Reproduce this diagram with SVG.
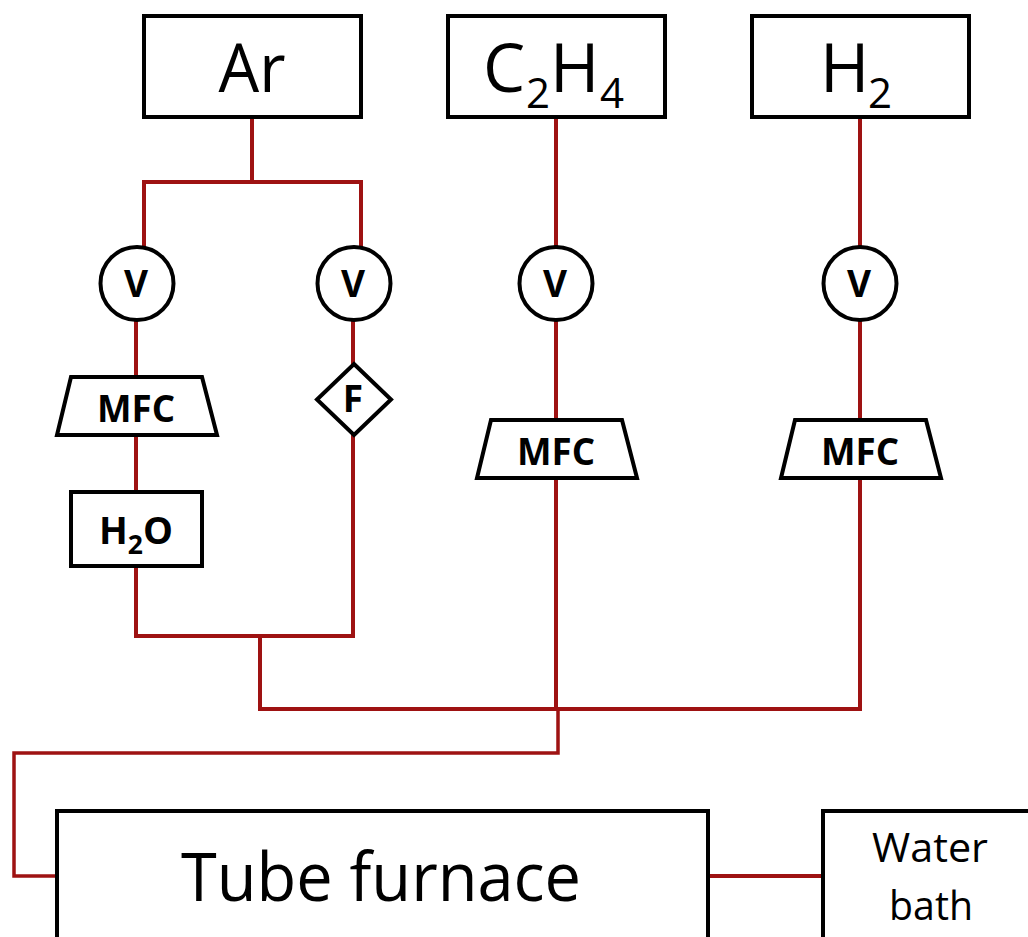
<svg xmlns="http://www.w3.org/2000/svg" width="1028" height="937" viewBox="0 0 1028 937">
<style>
.n{fill:#fff;stroke:#000;stroke-width:4}
.w{fill:none;stroke:#9e1212;stroke-width:4;stroke-linejoin:miter;stroke-linecap:square}
.r{stroke-width:3.500}
text{font-family:"Open Sans","Noto Sans","Liberation Sans",sans-serif;fill:#000;text-anchor:middle}
.b{font-size:67px}
.s{font-size:42px}
.m{font-size:37px;font-weight:700}
.l{font-size:41px}
.st{text-anchor:start}
</style>
<rect width="1028" height="937" fill="#fff"/>
<g id="connectors" class="w">
<path d="M252 117V182M144 247V182H361V247"/>
<path d="M556 117V247M556 319V420M556 478V709"/>
<path d="M860 117V247M860 319V420M860 478V709H260V636"/>
<path d="M136 319V377M136 435V492M136 566V636H353V435M353 319V364"/>
<path class="r" d="M558 709V753H14V876H57"/>
<path d="M708 876H823"/>
</g>
<g id="ar"><rect class="n" x="144" y="16" width="217" height="101"/><text class="b" x="252" y="92" textLength="67" lengthAdjust="spacingAndGlyphs">Ar</text></g>
<g id="c2h4"><rect class="n" x="448" y="16" width="217" height="101"/><text class="b st" x="483" y="92">C<tspan class="s" x="526" y="108">2</tspan><tspan x="550" y="92">H</tspan><tspan class="s" x="600" y="108">4</tspan></text></g>
<g id="h2"><rect class="n" x="752" y="16" width="217" height="101"/><text class="b st" x="820" y="92">H<tspan class="s" x="868" y="108">2</tspan></text></g>
<g id="v1"><circle class="n" cx="137" cy="283.500" r="36.500"/><text class="m" x="136" y="297">V</text></g>
<g id="v2"><circle class="n" cx="354" cy="283.500" r="36.500"/><text class="m" x="353" y="297">V</text></g>
<g id="v3"><circle class="n" cx="556" cy="283.500" r="36.500"/><text class="m" x="555" y="297">V</text></g>
<g id="v4"><circle class="n" cx="860" cy="283.500" r="36.500"/><text class="m" x="859" y="297">V</text></g>
<g id="mfc1"><path class="n" d="M71 377H202L217 435H57Z"/><text class="m" x="136" y="422" textLength="78" lengthAdjust="spacingAndGlyphs">MFC</text></g>
<g id="mfc2"><path class="n" d="M491 420H622L637 478H477Z"/><text class="m" x="556" y="465" textLength="78" lengthAdjust="spacingAndGlyphs">MFC</text></g>
<g id="mfc3"><path class="n" d="M795 420H926L941 478H781Z"/><text class="m" x="860" y="465" textLength="78" lengthAdjust="spacingAndGlyphs">MFC</text></g>
<g id="h2o"><rect class="n" x="71" y="492" width="131" height="74"/><text class="m" x="136" y="544" textLength="74" lengthAdjust="spacingAndGlyphs">H<tspan dy="10" font-size="26">2</tspan><tspan dy="-10">O</tspan></text></g>
<g id="filter"><path class="n" d="M354 364L391 399.500L354 435L317 399.500Z"/><text class="m" x="353" y="412">F</text></g>
<g id="furnace"><path class="n" d="M57 940V811H708V940"/><text class="b" x="381" y="901" textLength="400" lengthAdjust="spacingAndGlyphs">Tube furnace</text></g>
<g id="bath"><path class="n" d="M823 940V811H1032V940"/><text class="l" x="930" y="862" textLength="116" lengthAdjust="spacingAndGlyphs">Water</text><text class="l" x="931" y="920" textLength="84" lengthAdjust="spacingAndGlyphs">bath</text></g>
</svg>
